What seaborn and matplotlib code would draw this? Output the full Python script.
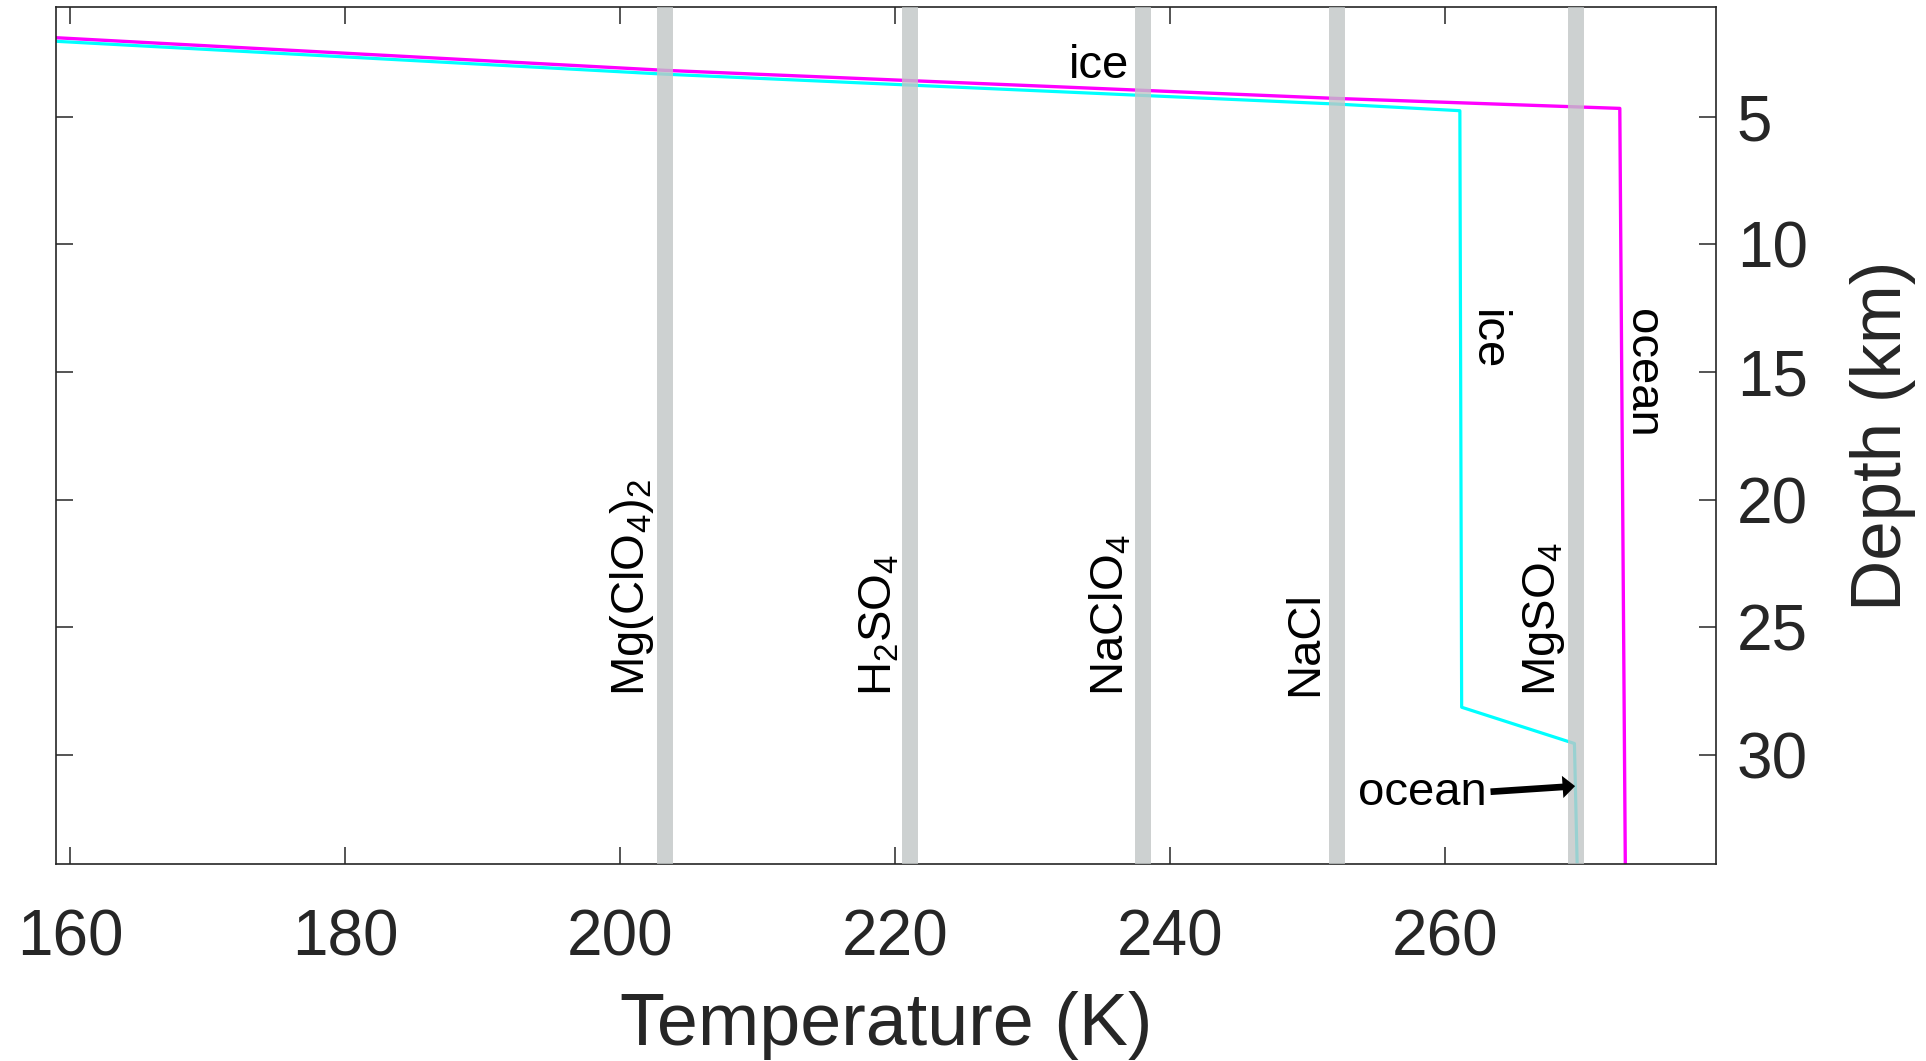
import numpy as np
import pandas as pd
import seaborn as sns
import matplotlib.pyplot as plt

# temperature profiles (K) vs depth (km)
warm_T = [158.96, 203.3, 252.1, 272.7, 273.1]
warm_depth = [1.90, 3.18, 4.28, 4.67, 34.3]
cold_T = [158.96, 203.3, 252.1, 261.07, 261.2, 269.4, 269.6]
cold_depth = [2.04, 3.33, 4.50, 4.76, 28.13, 29.55, 34.3]

# eutectic temperatures of the salts
salt_names = ["Mg(ClO$_4$)$_2$", "H$_2$SO$_4$", "NaClO$_4$", "NaCl", "MgSO$_4$"]
salt_T = [203.3, 221.1, 238.0, 252.1, 269.5]

x_ticks = [160, 180, 200, 220, 240, 260]
y_ticks = [5, 10, 15, 20, 25, 30]

sns.set_style("white")
plt.rcParams['font.family'] = ['Liberation Sans', 'DejaVu Sans']
plt.rcParams['mathtext.fontset'] = 'custom'
plt.rcParams['mathtext.rm'] = 'Liberation Sans'
plt.rcParams['mathtext.it'] = 'Liberation Sans'
plt.rcParams['mathtext.default'] = 'regular'

dark = '#262626'
fig = plt.figure(figsize=(19.26, 10.61), dpi=100)
ax = fig.add_axes([0.0289, 0.1857, 0.8621, 0.8074])

warm = pd.DataFrame({'T': warm_T, 'depth': warm_depth})
cold = pd.DataFrame({'T': cold_T, 'depth': cold_depth})
sns.lineplot(data=warm, x='T', y='depth', sort=False, estimator=None,
             color='#ff00ff', linewidth=2.4, ax=ax, zorder=2)
sns.lineplot(data=cold, x='T', y='depth', sort=False, estimator=None,
             color='#00ffff', linewidth=2.3, ax=ax, zorder=2)

# salt bars and labels
for name, t in zip(salt_names, salt_T):
    ax.axvline(t, color=(0.755, 0.775, 0.775), alpha=0.8, linewidth=11.5, zorder=3)
    ax.text(t - 0.65, 27.7, name, rotation=90, ha='right', va='bottom',
            fontsize=34, color='black', zorder=4)

ax.text(234.8, 3.0, "ice", ha='center', va='center', fontsize=34, color='black')
ax.text(263.0, 13.76, "ice", rotation=270, ha='center', va='center', fontsize=34, color='black')
ax.text(274.3, 15.06, "ocean", rotation=270, ha='center', va='center', fontsize=34, color='black')

ax.text(263.05, 31.96, "ocean", ha='right', va='baseline', fontsize=34, color='black', zorder=5)
ax.annotate("", xy=(269.45, 31.22), xytext=(263.3, 31.44),
            arrowprops=dict(arrowstyle="simple,head_length=0.45,head_width=0.8,tail_width=0.24",
                            mutation_scale=20, fc='black', ec='none', lw=0,
                            shrinkA=0, shrinkB=0), zorder=5)

ax.set_xlim(158.96, 279.7)
ax.set_ylim(34.27, 0.71)
ax.set_xticks(x_ticks)
ax.set_yticks(y_ticks)

ax.yaxis.set_label_position('right')
ax.tick_params(axis='both', direction='in', length=12.5, width=1.1, color=dark,
               labelcolor=dark, top=True, bottom=True, left=True, right=True)
ax.tick_params(axis='x', labelsize=46, pad=32)
ax.tick_params(axis='y', labelsize=46, pad=15, labelleft=False, labelright=True)

ax.set_xlabel("Temperature (K)", fontsize=53, color=dark, labelpad=16)
ax.set_ylabel("Depth (km)", fontsize=51, color=dark, labelpad=30)

for s in ax.spines.values():
    s.set_color(dark)
    s.set_linewidth(1.2)
    s.set_visible(True)

plt.savefig("out.png", dpi=100)
